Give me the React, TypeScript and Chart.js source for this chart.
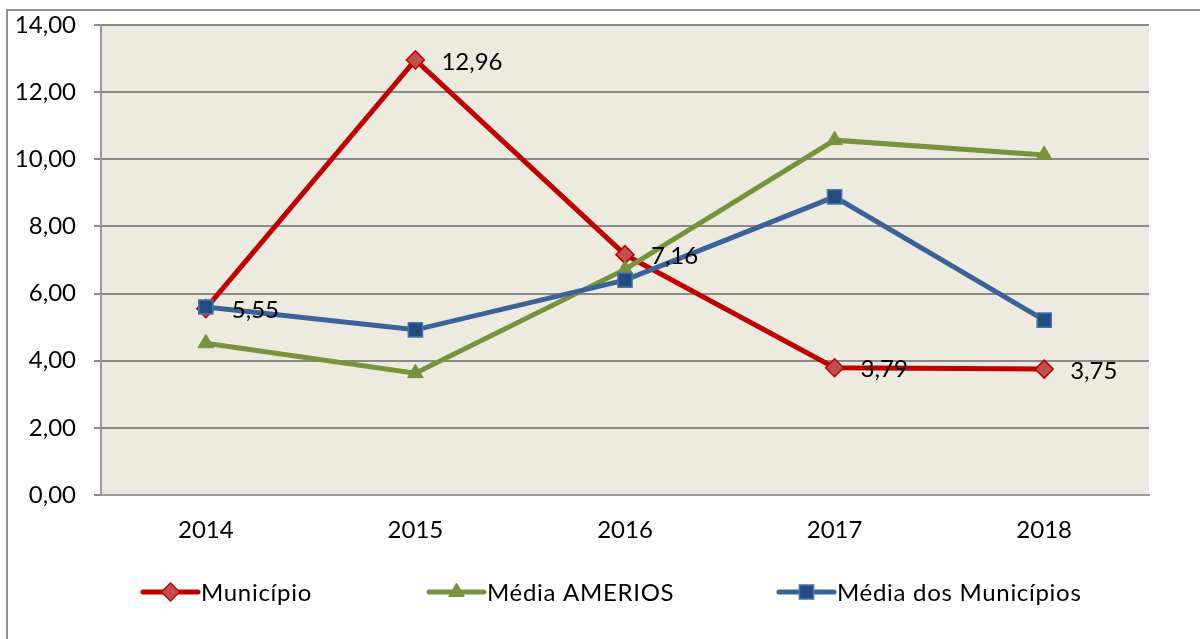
import React, { useEffect, useRef } from "react";
import { Chart, registerables } from "chart.js";

Chart.register(...registerables);

const categories = ["2014", "2015", "2016", "2017", "2018"];
const municipio = [5.55, 12.96, 7.16, 3.79, 3.75];
const mediaAmerios = [4.52, 3.63, 6.72, 10.57, 10.13];
const mediaMunicipios = [5.6, 4.92, 6.4, 8.88, 5.21];
const seriesNames = ["Município", "Média AMERIOS", "Média dos Municípios"];

const FONT = "Lato";
const fmt = (v: number) => v.toFixed(2).replace(".", ",");

export default function App() {
  const ref = useRef<HTMLCanvasElement | null>(null);

  useEffect(() => {
    if (!ref.current) return;

    const framePlugin = {
      id: "frame",
      beforeDraw(chart: any) {
        const { ctx, chartArea } = chart;
        ctx.save();
        ctx.fillStyle = "#EDEAE0";
        ctx.fillRect(chartArea.left, chartArea.top, chartArea.right - chartArea.left, chartArea.bottom - chartArea.top);
        ctx.strokeStyle = "#8E8E8E";
        ctx.lineWidth = 2;
        ctx.beginPath();
        ctx.moveTo(7, 700);
        ctx.lineTo(7, 10);
        ctx.lineTo(1300, 10);
        ctx.stroke();
        ctx.restore();
      },
    };

    const labelsPlugin = {
      id: "labels",
      afterDatasetsDraw(chart: any) {
        const { ctx } = chart;
        const meta = chart.getDatasetMeta(0);
        ctx.save();
        ctx.font = `24px ${FONT}`;
        ctx.fillStyle = "#000";
        ctx.textAlign = "left";
        ctx.textBaseline = "middle";
        meta.data.forEach((pt: any, i: number) => {
          ctx.fillText(fmt(municipio[i]), pt.x + 26, pt.y + 2);
        });
        ctx.restore();
      },
    };

    const legendPlugin = {
      id: "customLegend",
      afterDraw(chart: any) {
        const { ctx } = chart;
        const y = 592;
        const starts = [143, 429, 779];
        ctx.save();
        ctx.font = `24px ${FONT}`;
        try { (ctx as any).letterSpacing = "0.7px"; } catch (e) {}
        ctx.textBaseline = "middle";
        ctx.textAlign = "left";
        chart.data.datasets.forEach((ds: any, i: number) => {
          const x0 = starts[i];
          const x1 = x0 + 55;
          ctx.strokeStyle = ds.borderColor;
          ctx.lineWidth = 5;
          ctx.lineCap = "round";
          ctx.beginPath();
          ctx.moveTo(x0, y);
          ctx.lineTo(x1, y);
          ctx.stroke();
          ctx.lineCap = "butt";
          ctx.fillStyle = ds.pointBackgroundColor;
          ctx.strokeStyle = ds.pointBorderColor;
          ctx.lineWidth = ds.pointBorderWidth;
          const cx = (x0 + x1) / 2;
          const r = ds.pointRadius;
          ctx.beginPath();
          if (ds.pointStyle === "rectRot") {
            ctx.moveTo(cx, y - r);
            ctx.lineTo(cx + r, y);
            ctx.lineTo(cx, y + r);
            ctx.lineTo(cx - r, y);
            ctx.closePath();
          } else if (ds.pointStyle === "triangle") {
            ctx.moveTo(cx, y - r);
            ctx.lineTo(cx + r * 0.866, y + r * 0.5);
            ctx.lineTo(cx - r * 0.866, y + r * 0.5);
            ctx.closePath();
          } else {
            const h = r / Math.SQRT2;
            ctx.rect(cx - h, y - h, 2 * h, 2 * h);
          }
          ctx.fill();
          ctx.stroke();
          ctx.fillStyle = "#000";
          ctx.fillText(ds.label, x1 + 3, y + 1);
        });
        ctx.restore();
      },
    };

    const chart = new Chart(ref.current, {
      type: "line",
      data: {
        labels: categories,
        datasets: [
          {
            label: seriesNames[0],
            data: municipio,
            borderColor: "#C00000",
            borderWidth: 5,
            pointStyle: "rectRot",
            pointRadius: 9,
            pointBackgroundColor: "#C0504D",
            pointBorderColor: "#C00000",
            pointBorderWidth: 1.5,
            tension: 0,
            order: 3,
          },
          {
            label: seriesNames[1],
            data: mediaAmerios,
            borderColor: "#77933C",
            borderWidth: 5,
            pointStyle: "triangle",
            pointRadius: 9,
            pointBackgroundColor: "#77933C",
            pointBorderColor: "#77933C",
            pointBorderWidth: 1,
            tension: 0,
            order: 2,
          },
          {
            label: seriesNames[2],
            data: mediaMunicipios,
            borderColor: "#3B639A",
            borderWidth: 5,
            pointStyle: "rect",
            pointRadius: 10,
            pointBackgroundColor: "#244B80",
            pointBorderColor: "#4A74AE",
            pointBorderWidth: 1.5,
            tension: 0,
            order: 1,
          },
        ] as any,
      },
      options: {
        animation: false,
        responsive: true,
        maintainAspectRatio: false,
        layout: { padding: { left: 0, top: 25, right: 51, bottom: 0 } },
        plugins: {
          legend: { display: false },
          tooltip: { enabled: false },
          title: { display: false },
        },
        scales: {
          x: {
            type: "category",
            offset: true,
            grid: { display: false, drawTicks: false },
            border: { display: true, color: "#9A9A9A", width: 2 },
            ticks: { font: { family: FONT, size: 24 }, color: "#000", padding: 21 },
            afterFit: (s: any) => {
              s.height = 144;
              s.paddingLeft = 0;
              s.paddingRight = 0;
            },
          },
          y: {
            min: 0,
            max: 14,
            ticks: {
              stepSize: 2,
              font: { family: FONT, size: 24 },
              color: "#000",
              padding: 18,
              callback: (v: any) => fmt(Number(v)),
            },
            grid: { color: "#8A8A8A", lineWidth: 2, tickLength: 7, drawTicks: true },
            border: { display: true, color: "#9A9A9A", width: 2 },
            afterFit: (s: any) => {
              s.width = 101;
              s.paddingTop = 0;
              s.paddingBottom = 0;
            },
          },
        },
      } as any,
      plugins: [framePlugin, labelsPlugin, legendPlugin],
    });

    return () => chart.destroy();
  }, []);

  return (
    <div style={{ position: "absolute", left: 0, top: 0, width: 1200, height: 639, background: "#fff" }}>
      <canvas ref={ref} />
    </div>
  );
}
